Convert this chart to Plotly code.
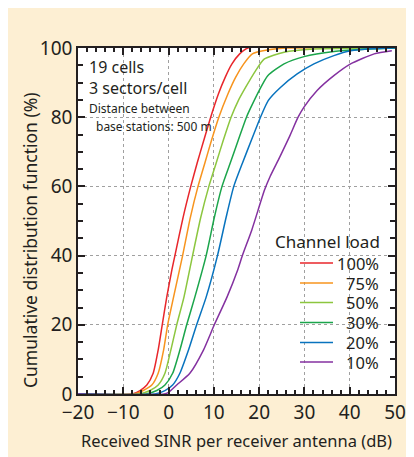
import plotly.graph_objects as go

# ---- data ----
series_names = ["100%", "75%", "50%", "30%", "20%", "10%"]
series_colors = ["#E8262B", "#F7941E", "#8CC63F", "#1BA54B", "#0873BE", "#8431A0"]

x_100 = [-20, -8, -6.3, -4.8, -3.4, -2.3, -1.4, -0.4, 0.75, 1.4, 3.2, 4.9, 6.3, 7.8, 9.3, 11.0, 12.5, 14.0, 15.7, 17.5, 50]
y_100 = [0, 0, 1, 2.6, 6, 12.7, 20, 28, 36, 40, 51, 60, 66.7, 73.4, 80, 86.7, 91.5, 95.4, 98.3, 100, 100]

x_75 = [-20, -7.5, -5.6, -3.7, -2.3, -1.1, -0.2, 1.1, 3.1, 4.8, 6.5, 8.0, 9.5, 11.1, 13.1, 14.8, 16.6, 18.5, 21.8, 26, 50]
y_75 = [0, 0, 1, 2.6, 6, 12.7, 20, 28, 40, 51, 60, 66.7, 73.4, 80, 86.7, 91.5, 95.4, 98.3, 99.4, 100, 100]

x_50 = [-20, -6.5, -4.1, -2.3, -0.8, 0.5, 1.8, 3.4, 5.3, 7.1, 8.9, 10.5, 12.1, 13.8, 15.4, 17.0, 19.2, 21.1, 25.5, 32, 50]
y_50 = [0, 0, 1, 2.6, 6, 12.7, 20, 28, 40, 51, 60, 66.7, 73.4, 80, 84.8, 88.6, 93.4, 96.8, 98.8, 99.7, 100]

x_30 = [-20, -5, -2.6, -0.8, 0.9, 2.5, 4.0, 5.8, 8.3, 10.1, 11.8, 13.6, 15.4, 17.2, 18.2, 20.0, 21.9, 25.5, 29.9, 36.5, 42.4, 50]
y_30 = [0, 0, 1, 2.6, 6, 12.7, 20, 28, 40, 51, 60, 66.7, 73.4, 80, 82.9, 87.7, 92, 95.4, 97.5, 99, 99.6, 100]

x_20 = [-20, -3, -0.8, 0.9, 2.5, 4.4, 6.2, 8.3, 10.8, 12.7, 14.4, 16.3, 18.3, 20.3, 22.0, 24.7, 28.4, 32.1, 36.5, 40.2, 45, 50]
y_20 = [0, 0, 1, 2.6, 6, 12.7, 20, 28, 40, 51, 60, 66.7, 73.4, 80, 84.8, 88.6, 92.5, 95.4, 97.8, 99.2, 99.8, 100]

x_10 = [-20, -1, 0, 1.8, 4.7, 7.7, 10.1, 12.9, 15.3, 16.3, 18.4, 21.2, 22.4, 24.6, 26.7, 28.6, 29.9, 32.8, 36.5, 40.2, 45.4, 49.3]
y_10 = [0, 0, 0.5, 2.6, 6, 12.7, 20, 28, 36, 40, 47.5, 59, 62.8, 68.6, 74.4, 80, 82.9, 87.7, 92, 95.4, 98.3, 99.2]

xs = [x_100, x_75, x_50, x_30, x_20, x_10]
ys = [y_100, y_75, y_50, y_30, y_20, y_10]

x_tickvals = [-20, -10, 0, 10, 20, 30, 40, 50]
y_tickvals = [0, 20, 40, 60, 80, 100]

FONT = "Noto Sans, Open Sans, DejaVu Sans, sans-serif"
INK = "#231F20"
CREAM = "#FDEFD3"

# page offset (body margin) and plot-area geometry in screenshot pixels
OFF = 8
FIG_W, FIG_H = 414 - OFF, 457 - OFF
L, R, T, B = 78, 395, 48, 394
W, H = R - L, B - T


def px(xp):
    return (xp - L) / W


def py(yp):
    return (B - yp) / H


fig = go.Figure()
for name, col, x, y in zip(series_names, series_colors, xs, ys):
    fig.add_trace(go.Scatter(x=x, y=y, mode="lines", name=name, showlegend=False,
                             line=dict(color=col, width=1.5, shape="spline", smoothing=0.6)))

axis_common = dict(
    showline=True, linecolor=INK, linewidth=1.5, mirror="ticks",
    ticks="inside", ticklen=7, tickwidth=1.5, tickcolor=INK,
    showgrid=True, gridcolor="#A0A0A0", griddash="dot", gridwidth=1,
    zeroline=False, automargin=False,
    tickfont=dict(family=FONT, size=19, color=INK),
)

fig.update_xaxes(range=[-20, 50], tickvals=x_tickvals,
                 minor=dict(dtick=2, ticks="inside", ticklen=4, tickcolor=INK, showgrid=False),
                 **axis_common)
fig.update_yaxes(range=[0, 100], tickvals=y_tickvals,
                 minor=dict(dtick=5, ticks="inside", ticklen=5, tickcolor=INK, showgrid=False),
                 **axis_common)

annotations = [
    dict(text="Received SINR per receiver antenna (dB)", x=px(236), y=py(440),
         xanchor="center", yanchor="middle", font=dict(family=FONT, size=16.5, color=INK)),
    dict(text="Cumulative distribution function (%)", x=px(30), y=py(240), textangle=-90,
         xanchor="center", yanchor="middle", font=dict(family=FONT, size=17.5, color=INK)),
    dict(text="19 cells", x=px(87), y=py(67), xanchor="left", yanchor="middle",
         font=dict(family=FONT, size=16, color=INK)),
    dict(text="3 sectors/cell", x=px(87), y=py(88), xanchor="left", yanchor="middle",
         font=dict(family=FONT, size=16, color=INK)),
    dict(text="Distance between", x=px(87), y=py(108), xanchor="left", yanchor="middle",
         font=dict(family=FONT, size=12, color=INK)),
    dict(text="base stations: 500 m", x=px(94), y=py(127), xanchor="left", yanchor="middle",
         font=dict(family=FONT, size=12, color=INK)),
    dict(text="Channel load", x=px(382), y=py(241), xanchor="right", yanchor="middle",
         font=dict(family=FONT, size=17, color=INK)),
]

shapes = []
# legend: line sample + right-aligned label for each series
row_y = [263, 283, 302.5, 322.5, 342.5, 362]
for name, col, ry in zip(series_names, series_colors, row_y):
    shapes.append(dict(type="line", xref="paper", yref="paper", x0=px(300), x1=px(333),
                       y0=py(ry), y1=py(ry), line=dict(color=col, width=1.5), layer="above"))
    annotations.append(dict(text=name, x=px(381), y=py(ry), xanchor="right", yanchor="middle",
                            font=dict(family=FONT, size=16.5, color=INK)))

for a in annotations:
    a.update(xref="paper", yref="paper", showarrow=False)

fig.update_layout(
    width=FIG_W, height=FIG_H,
    margin=dict(l=L - OFF, r=414 - R, t=T - OFF, b=457 - B),
    paper_bgcolor=CREAM, plot_bgcolor="white",
    showlegend=False,
    shapes=shapes,
    annotations=annotations,
)

fig.write_html("out.html")
